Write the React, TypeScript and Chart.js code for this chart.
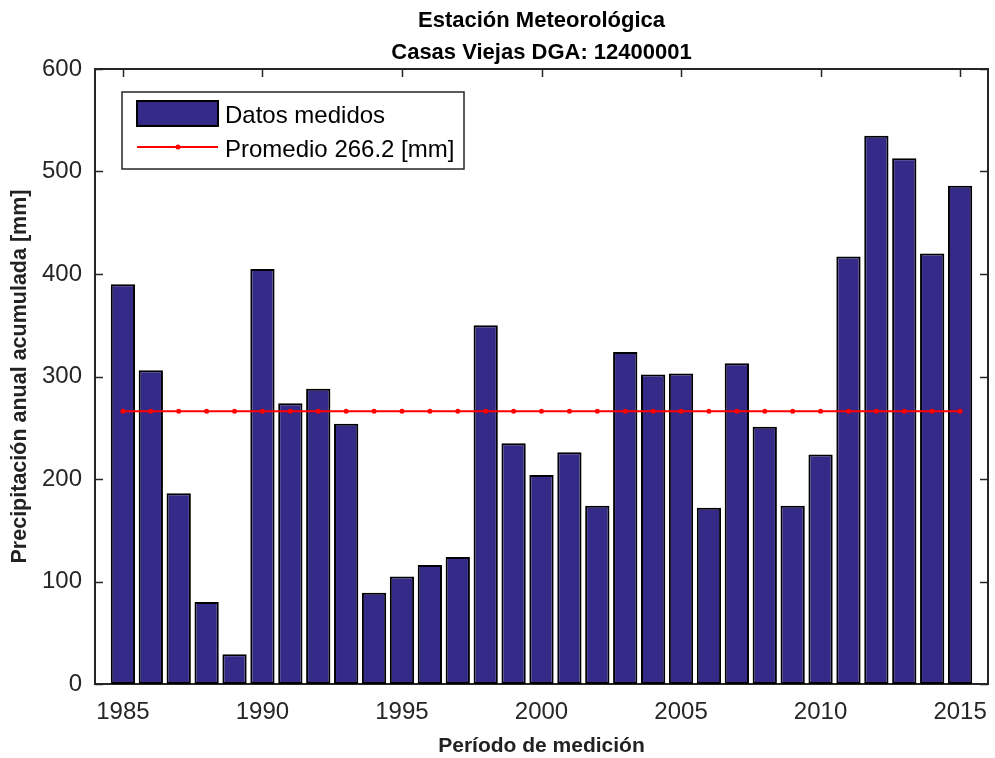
import React, { useEffect, useRef } from "react";
import { Chart, registerables } from "chart.js";

Chart.register(...registerables);

const YEARS = [
  1985, 1986, 1987, 1988, 1989, 1990, 1991, 1992, 1993, 1994, 1995, 1996, 1997, 1998, 1999, 2000,
  2001, 2002, 2003, 2004, 2005, 2006, 2007, 2008, 2009, 2010, 2011, 2012, 2013, 2014, 2015,
];
const PRECIP = [
  390, 306, 186, 80, 29, 405, 274, 288, 254, 89, 105, 116, 124, 350, 235, 204,
  226, 174, 324, 302, 303, 172, 313, 251, 174, 224, 417, 535, 513, 420, 486,
];
const MEAN = 266.2;
const X_TICKS = [1985, 1990, 1995, 2000, 2005, 2010, 2015];
const Y_TICKS = [0, 100, 200, 300, 400, 500, 600];
const TITLE_LINES = ["Estación Meteorológica", "Casas Viejas DGA: 12400001"];
const X_TITLE = "Período de medición";
const Y_TITLE = "Precipitación anual acumulada [mm]";
const BAR_LABEL = "Datos medidos";
const LINE_LABEL = `Promedio ${MEAN.toFixed(1)} [mm]`;

const BAR_COLOR = "#352a87";
const AXIS_COLOR = "#262626";
const FONT = "'Liberation Sans', Arial, sans-serif";

const matlabPlugin = {
  id: "matlabAxes",
  beforeDatasetsDraw(chart: any) {
    const { ctx, chartArea: ca, scales } = chart;
    ctx.save();
    ctx.strokeStyle = AXIS_COLOR;
    ctx.lineWidth = 1.5;
    const tl = 8;
    ctx.beginPath();
    for (const t of scales.x.ticks) {
      const px = Math.round(scales.x.getPixelForValue(t.value)) + 0.5;
      ctx.moveTo(px, ca.bottom);
      ctx.lineTo(px, ca.bottom - tl);
      ctx.moveTo(px, ca.top);
      ctx.lineTo(px, ca.top + tl);
    }
    for (const t of scales.y.ticks) {
      const py = Math.round(scales.y.getPixelForValue(t.value)) + 0.5;
      ctx.moveTo(ca.left, py);
      ctx.lineTo(ca.left + tl, py);
      ctx.moveTo(ca.right, py);
      ctx.lineTo(ca.right - tl, py);
    }
    ctx.stroke();
    ctx.lineWidth = 2;
    ctx.strokeRect(ca.left, ca.top, ca.right - ca.left, ca.bottom - ca.top);
    ctx.restore();
  },
  afterDraw(chart: any) {
    const { ctx, chartArea: ca } = chart;
    const ds = chart.data.datasets;
    ctx.save();
    const bx = ca.left + 27;
    const by = ca.top + 23;
    const bw = 342;
    const bh = 77;
    ctx.fillStyle = "#ffffff";
    ctx.fillRect(bx, by, bw, bh);
    ctx.strokeStyle = AXIS_COLOR;
    ctx.lineWidth = 1.5;
    ctx.strokeRect(bx, by, bw, bh);
    ctx.fillStyle = BAR_COLOR;
    ctx.fillRect(bx + 15, by + 9, 81, 25);
    ctx.strokeStyle = "#000";
    ctx.lineWidth = 2;
    ctx.strokeRect(bx + 15, by + 9, 81, 25);
    ctx.strokeStyle = "#ff0000";
    ctx.lineWidth = 2;
    ctx.beginPath();
    ctx.moveTo(bx + 15, by + 55);
    ctx.lineTo(bx + 96, by + 55);
    ctx.stroke();
    ctx.fillStyle = "#ff0000";
    ctx.beginPath();
    ctx.arc(bx + 56, by + 55, 2.5, 0, Math.PI * 2);
    ctx.fill();
    ctx.fillStyle = "#000";
    ctx.font = `24px ${FONT}`;
    ctx.textBaseline = "alphabetic";
    ctx.textAlign = "left";
    ctx.fillText(ds[0].label, bx + 103, by + 31);
    ctx.fillText(ds[1].label, bx + 103, by + 65);
    ctx.restore();
  },
};

export default function App() {
  const ref = useRef<HTMLCanvasElement | null>(null);
  useEffect(() => {
    if (!ref.current) return;
    const chart = new Chart(ref.current, {
      type: "bar",
      data: {
        datasets: [
          {
            type: "bar",
            label: BAR_LABEL,
            data: YEARS.map((x, i) => ({ x, y: PRECIP[i] })),
            backgroundColor: BAR_COLOR,
            borderColor: "#000000",
            borderWidth: 2,
            borderSkipped: false,
            barPercentage: 0.87,
            categoryPercentage: 1,
            order: 2,
          } as any,
          {
            type: "line",
            label: LINE_LABEL,
            data: YEARS.map((x) => ({ x, y: MEAN })),
            borderColor: "#ff0000",
            backgroundColor: "#ff0000",
            borderWidth: 2,
            pointRadius: 2.5,
            pointBorderWidth: 0,
            order: 1,
          } as any,
        ],
      },
      options: {
        animation: false,
        responsive: false,
        layout: { padding: { left: 0, right: 0, top: 0, bottom: 0 } },
        plugins: {
          legend: { display: false },
          tooltip: { enabled: false },
          title: {
            display: true,
            fullSize: false,
            text: TITLE_LINES,
            color: "#000",
            font: { family: FONT, size: 22, weight: "bold", lineHeight: 32 / 22 },
            padding: { top: 5, bottom: 0 },
          },
        },
        scales: {
          x: {
            type: "linear",
            min: 1984,
            max: 2016,
            offset: false,
            grid: { display: false, drawTicks: false },
            border: { display: false },
            afterBuildTicks: (s: any) => {
              s.ticks = X_TICKS.map((v) => ({ value: v }));
            },
            afterFit: (s: any) => {
              s.height = 74;
              s.paddingRight = 7;
              s.paddingLeft = 0;
            },
            ticks: {
              font: { family: FONT, size: 24 },
              color: AXIS_COLOR,
              padding: 14,
              maxRotation: 0,
              autoSkip: false,
              callback: (v: any) => String(v),
            },
            title: {
              display: true,
              text: X_TITLE,
              color: "#222",
              font: { family: FONT, size: 21, weight: "bold", lineHeight: 1 },
              padding: { top: 0, bottom: 1 },
            },
          },
          y: {
            type: "linear",
            min: 0,
            max: 600,
            grid: { display: false, drawTicks: false },
            border: { display: false },
            afterBuildTicks: (s: any) => {
              s.ticks = Y_TICKS.map((v) => ({ value: v }));
            },
            afterFit: (s: any) => {
              s.width = 95;
            },
            ticks: {
              font: { family: FONT, size: 24 },
              color: AXIS_COLOR,
              padding: 13,
            },
            title: {
              display: true,
              text: Y_TITLE,
              color: "#222",
              font: { family: FONT, size: 21.5, weight: "bold", lineHeight: 1 },
              padding: { top: 9, bottom: 0 },
            },
          },
        },
      } as any,
      plugins: [matlabPlugin],
    });
    return () => chart.destroy();
  }, []);
  return (
    <div style={{ position: "absolute", left: 0, top: 0, width: 995, height: 758 }}>
      <canvas ref={ref} width={995} height={758} style={{ display: "block" }} />
    </div>
  );
}
